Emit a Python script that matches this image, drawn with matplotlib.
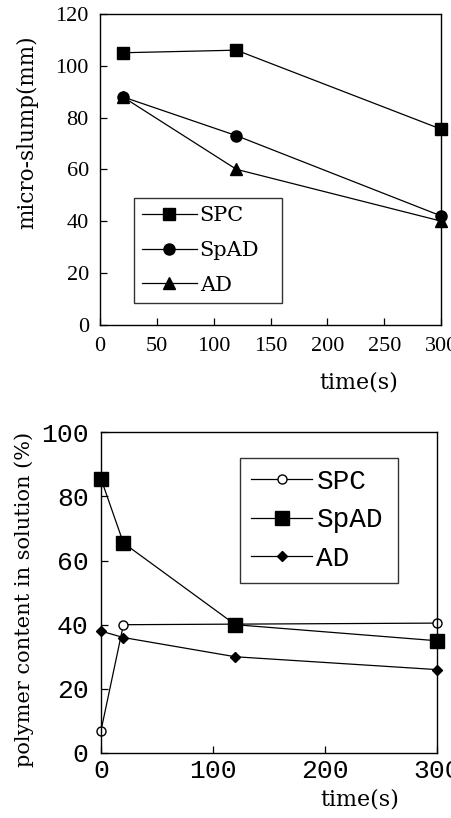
import matplotlib.pyplot as plt

# Top panel: micro-slump vs time
slump_time = [20, 120, 300]
slump_spc = [105, 106, 75.5]
slump_spad = [88, 73, 42]
slump_ad = [88, 60, 40]

# Bottom panel: polymer content in solution vs time
poly_time_spc = [0, 20, 300]
poly_spc = [7, 40, 40.5]
poly_time = [0, 20, 120, 300]
poly_spad = [85.5, 65.5, 40, 35]
poly_ad = [38, 36, 30, 26]

plt.rcParams['font.family'] = ['Liberation Serif', 'DejaVu Serif']
plt.rcParams['xtick.direction'] = 'in'
plt.rcParams['ytick.direction'] = 'in'

SERIF = ['DejaVu Serif']
MONO = ['Liberation Mono', 'DejaVu Sans Mono']

fig = plt.figure(figsize=(4.52, 8.18), dpi=100)

### Top: micro-slump ###
ax1 = fig.add_axes([0.221, 0.603, 0.755, 0.380])
ax1.plot(slump_time, slump_spc, 'k-s', lw=0.9, ms=8.5, label='SPC', clip_on=False)
ax1.plot(slump_time, slump_spad, 'k-o', lw=0.9, ms=8, label='SpAD', clip_on=False)
ax1.plot(slump_time, slump_ad, 'k-^', lw=0.9, ms=8.5, label='AD', clip_on=False)
ax1.set_xlim(0, 300)
ax1.set_ylim(0, 120)
ax1.set_xticks(range(0, 301, 50))
ax1.set_yticks(range(0, 121, 20))
ax1.tick_params(labelsize=16, length=5, width=0.9)
ax1.tick_params(axis='x', pad=8.5)
ax1.tick_params(axis='y', pad=8)
ax1.set_ylabel('micro-slump(mm)', fontsize=15.5, family=SERIF)
ax1.yaxis.set_label_coords(-0.18, 0.62)
ax1.set_xlabel('time(s)', fontsize=16, family=SERIF)
ax1.xaxis.set_label_coords(0.76, -0.15)
for s in ax1.spines.values():
    s.set_linewidth(1.0)
leg1 = ax1.legend(loc='lower left', bbox_to_anchor=(0.1, 0.07, 0.435, 0.34),
                  mode='expand', frameon=True, fancybox=False,
                  edgecolor='k', handlelength=2.6, borderaxespad=0,
                  labelspacing=0.75, handletextpad=0.15,
                  prop={'family': SERIF, 'size': 15})
leg1.get_frame().set_linewidth(1.0)

### Bottom: polymer content in solution ###
ax2 = fig.add_axes([0.2235, 0.0795, 0.743, 0.392])
ax2.plot(poly_time_spc, poly_spc, 'k-o', lw=0.9, ms=6.5, mfc='white', label='SPC', clip_on=False)
ax2.plot(poly_time, poly_spad, 'k-s', lw=0.9, ms=9.5, label='SpAD', clip_on=False)
ax2.plot(poly_time, poly_ad, 'k-D', lw=0.9, ms=5.5, label='AD', clip_on=False)
ax2.set_xlim(0, 300)
ax2.set_ylim(0, 100)
ax2.set_xticks([0, 100, 200, 300])
ax2.set_yticks(range(0, 101, 20))
ax2.tick_params(labelsize=19, length=5, width=0.9)
ax2.tick_params(axis='x', pad=4)
ax2.tick_params(axis='y', pad=9)
for lab in ax2.get_xticklabels() + ax2.get_yticklabels():
    lab.set_family(MONO)
ax2.set_ylabel('polymer content in solution (%)', fontsize=15, family=SERIF)
ax2.yaxis.set_label_coords(-0.20, 0.48)
ax2.set_xlabel('time(s)', fontsize=16, family=SERIF)
ax2.xaxis.set_label_coords(0.77, -0.11)
for s in ax2.spines.values():
    s.set_linewidth(1.0)
leg2 = ax2.legend(loc='lower left', bbox_to_anchor=(0.414, 0.53, 0.47, 0.377),
                  mode='expand', frameon=True, fancybox=False,
                  edgecolor='k', handlelength=2.2, borderaxespad=0,
                  labelspacing=0.45, handletextpad=0.15,
                  prop={'family': MONO, 'size': 20})
leg2.get_frame().set_linewidth(1.0)

fig.savefig('out.png', dpi=100)
